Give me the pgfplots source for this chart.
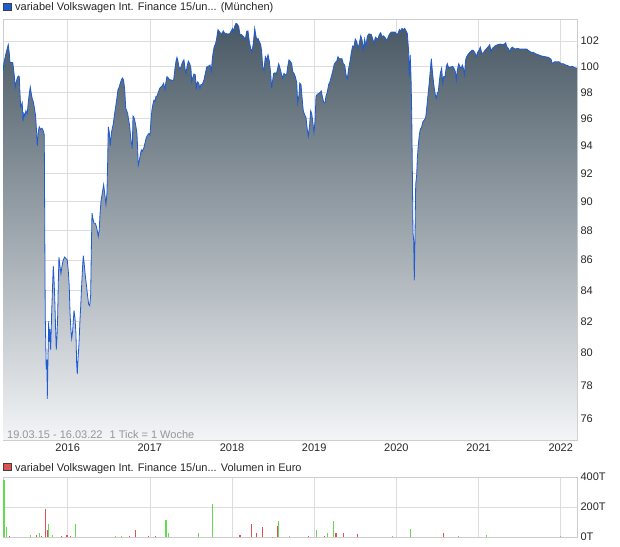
\documentclass[border=0pt]{standalone}
\usepackage{pgfplots}
\pgfplotsset{compat=1.18}
\usepackage{pgfplotstable}
\usepackage{fontspec}
\setmainfont{Liberation Sans}

\definecolor{gridgray}{RGB}{221,221,221}
\definecolor{framegray}{RGB}{205,205,205}
\definecolor{lineblue}{RGB}{30,90,210}
\definecolor{fillTop}{RGB}{72,88,100}
\definecolor{fillBot}{RGB}{243,245,247}
\definecolor{volgreen}{RGB}{100,218,80}
\definecolor{volred}{RGB}{222,82,82}
\definecolor{notegray}{RGB}{150,150,150}

% weekly closing prices (decimal year, price)
\pgfplotstableread{
t p
2015.213 99.6
2015.225 100.3
2015.249 101.0
2015.265 101.4
2015.277 101.7
2015.289 101.05
2015.298 100.3
2015.331 100.3
2015.338 99.97
2015.350 99.3
2015.362 98.4
2015.371 98.7
2015.387 99.1
2015.399 99.25
2015.411 99.2
2015.419 98.0
2015.428 96.9
2015.435 97.0
2015.447 97.2
2015.456 95.8
2015.468 96.4
2015.480 96.2
2015.492 96.6
2015.508 96.4
2015.520 97.2
2015.533 97.9
2015.545 98.4
2015.557 97.9
2015.569 97.5
2015.581 97.3
2015.593 96.9
2015.610 96.2
2015.623 94.9
2015.630 94.0
2015.642 95.0
2015.654 95.4
2015.671 95.2
2015.687 95.3
2015.703 95.1
2015.715 94.8
2015.720 89.4
2015.727 82.4
2015.739 79.0
2015.748 79.6
2015.752 77.2
2015.760 79.6
2015.769 82.0
2015.776 80.7
2015.785 81.5
2015.793 80.2
2015.805 82.5
2015.817 84.4
2015.825 85.6
2015.833 84.8
2015.842 83.6
2015.854 81.4
2015.861 80.2
2015.870 81.0
2015.878 82.3
2015.886 84.5
2015.894 86.2
2015.906 85.6
2015.918 85.1
2015.931 85.6
2015.946 86.0
2015.963 86.2
2015.979 86.1
2015.995 86.0
2016.007 85.3
2016.019 84.3
2016.028 82.6
2016.040 81.4
2016.049 80.9
2016.061 81.4
2016.077 82.7
2016.089 82.2
2016.101 81.2
2016.109 79.4
2016.117 78.7
2016.125 79.6
2016.137 80.5
2016.150 82.1
2016.158 82.9
2016.170 84.3
2016.182 85.6
2016.190 86.3
2016.202 85.7
2016.214 85.0
2016.231 84.2
2016.243 83.6
2016.255 83.1
2016.268 83.0
2016.280 83.7
2016.287 86.4
2016.296 89.2
2016.308 88.8
2016.320 88.5
2016.336 88.5
2016.348 88.3
2016.360 88.0
2016.372 87.6
2016.384 88.0
2016.393 89.1
2016.405 90.0
2016.421 90.6
2016.438 91.2
2016.454 90.4
2016.466 89.8
2016.478 90.6
2016.487 92.9
2016.494 95.4
2016.506 95.0
2016.518 94.0
2016.531 94.9
2016.543 95.3
2016.555 95.6
2016.567 96.2
2016.584 96.9
2016.600 97.6
2016.612 98.2
2016.628 98.4
2016.640 98.7
2016.657 99.0
2016.669 99.1
2016.681 98.9
2016.694 98.2
2016.706 96.8
2016.718 96.6
2016.730 96.4
2016.742 95.9
2016.754 95.5
2016.767 94.6
2016.779 94.1
2016.786 93.8
2016.795 96.2
2016.807 96.1
2016.819 95.8
2016.831 95.4
2016.843 94.9
2016.852 93.7
2016.859 92.6
2016.871 92.9
2016.883 93.3
2016.896 93.7
2016.908 93.6
2016.925 93.8
2016.941 94.2
2016.956 94.6
2016.974 94.8
2016.989 94.9
2017.002 94.8
2017.014 95.9
2017.026 96.7
2017.038 97.1
2017.050 97.4
2017.062 97.3
2017.075 97.7
2017.087 97.7
2017.103 98.0
2017.120 98.3
2017.135 98.4
2017.151 98.5
2017.168 98.7
2017.184 98.2
2017.196 98.8
2017.208 99.2
2017.224 99.1
2017.241 98.95
2017.257 98.95
2017.273 98.9
2017.290 98.95
2017.306 99.85
2017.318 100.4
2017.330 100.7
2017.342 100.4
2017.354 99.95
2017.367 99.8
2017.379 99.95
2017.391 100.2
2017.403 100.4
2017.415 100.5
2017.427 99.85
2017.440 99.45
2017.452 99.95
2017.468 100.4
2017.485 100.2
2017.500 99.85
2017.509 98.8
2017.521 99.1
2017.537 99.4
2017.553 99.35
2017.565 98.2
2017.577 98.8
2017.594 98.7
2017.610 98.3
2017.622 98.6
2017.638 98.6
2017.659 98.95
2017.675 99.45
2017.692 99.95
2017.711 100.0
2017.732 100.1
2017.748 99.6
2017.760 100.6
2017.772 101.15
2017.784 101.55
2017.801 101.8
2017.813 102.2
2017.829 102.9
2017.845 102.75
2017.862 102.6
2017.878 102.6
2017.894 102.8
2017.911 102.6
2017.926 102.6
2017.942 102.55
2017.959 102.55
2017.975 102.6
2017.991 102.8
2018.008 103.0
2018.020 102.75
2018.032 103.15
2018.048 103.4
2018.064 103.35
2018.081 103.15
2018.097 102.5
2018.113 102.5
2018.130 102.4
2018.145 102.3
2018.161 102.1
2018.178 102.75
2018.194 102.8
2018.210 101.95
2018.227 101.4
2018.243 101.15
2018.259 101.8
2018.276 103.0
2018.288 102.5
2018.300 102.1
2018.316 102.2
2018.332 101.95
2018.349 101.7
2018.361 101.15
2018.373 99.95
2018.389 99.7
2018.405 100.75
2018.422 100.5
2018.438 100.9
2018.454 100.4
2018.470 99.45
2018.483 98.3
2018.495 98.95
2018.507 99.45
2018.523 99.5
2018.539 99.4
2018.556 99.85
2018.568 100.2
2018.584 99.85
2018.599 99.45
2018.616 99.1
2018.632 99.45
2018.648 99.35
2018.665 99.35
2018.677 99.95
2018.693 100.5
2018.709 100.4
2018.726 100.2
2018.738 99.6
2018.754 99.45
2018.770 99.2
2018.787 98.75
2018.799 97.2
2018.815 97.8
2018.824 98.7
2018.839 98.6
2018.855 97.4
2018.867 96.6
2018.884 96.3
2018.900 96.1
2018.916 95.2
2018.928 94.7
2018.945 95.6
2018.957 96.6
2018.969 96.4
2018.982 95.8
2018.997 95.0
2019.010 95.8
2019.022 97.7
2019.038 97.85
2019.055 97.9
2019.070 97.98
2019.086 98.1
2019.098 97.7
2019.115 97.25
2019.131 97.2
2019.143 97.7
2019.159 98.0
2019.176 98.6
2019.192 98.8
2019.208 99.2
2019.225 99.6
2019.241 100.1
2019.257 100.3
2019.274 100.4
2019.289 100.75
2019.305 100.6
2019.322 100.6
2019.338 100.6
2019.354 100.2
2019.371 100.1
2019.387 99.35
2019.403 99.05
2019.420 99.85
2019.436 100.4
2019.451 101.05
2019.468 101.6
2019.484 101.55
2019.500 102.15
2019.517 101.95
2019.533 101.4
2019.549 101.8
2019.566 102.4
2019.582 102.1
2019.597 101.3
2019.614 102.15
2019.630 101.55
2019.646 102.35
2019.663 102.55
2019.679 102.55
2019.695 102.5
2019.712 102.15
2019.728 101.8
2019.744 102.3
2019.761 102.2
2019.776 102.15
2019.792 102.5
2019.809 102.65
2019.825 102.35
2019.841 102.4
2019.858 102.3
2019.874 102.15
2019.889 102.1
2019.906 102.4
2019.922 102.6
2019.938 102.7
2019.955 102.7
2019.971 102.7
2019.987 102.7
2020.004 102.5
2020.020 102.6
2020.036 102.9
2020.053 102.8
2020.068 103.0
2020.084 102.9
2020.101 103.0
2020.117 102.8
2020.133 102.6
2020.148 101.3
2020.157 99.2
2020.168 100.9
2020.178 99.2
2020.187 96.3
2020.194 92.3
2020.202 87.85
2020.211 87.3
2020.218 84.65
2020.227 87.85
2020.235 91.2
2020.247 91.9
2020.255 93.1
2020.267 94.05
2020.279 94.8
2020.291 95.2
2020.308 95.4
2020.324 95.8
2020.340 95.9
2020.357 96.1
2020.373 97.05
2020.388 98.0
2020.401 98.8
2020.413 99.7
2020.425 100.6
2020.437 99.7
2020.449 98.95
2020.461 98.3
2020.474 97.8
2020.486 97.55
2020.498 97.95
2020.510 98.05
2020.522 98.8
2020.534 99.45
2020.551 99.85
2020.564 98.7
2020.576 99.2
2020.592 99.2
2020.607 99.95
2020.620 100.2
2020.637 99.85
2020.653 99.95
2020.668 99.95
2020.685 100.0
2020.701 99.85
2020.717 99.6
2020.729 98.95
2020.741 99.7
2020.759 100.2
2020.774 99.95
2020.790 99.85
2020.802 100.1
2020.815 99.85
2020.827 99.35
2020.844 100.55
2020.859 100.8
2020.875 100.95
2020.896 101.1
2020.917 101.25
2020.936 101.25
2020.957 101.05
2020.973 100.75
2020.990 101.1
2021.005 101.25
2021.021 101.5
2021.038 101.05
2021.058 101.05
2021.078 101.25
2021.099 101.4
2021.119 101.55
2021.136 101.7
2021.152 101.15
2021.167 101.4
2021.184 101.5
2021.200 101.6
2021.233 101.7
2021.261 101.75
2021.289 101.7
2021.313 101.75
2021.330 101.85
2021.343 101.55
2021.362 101.4
2021.374 101.15
2021.395 101.4
2021.411 101.5
2021.431 101.4
2021.452 101.35
2021.472 101.4
2021.504 101.35
2021.545 101.35
2021.586 101.35
2021.605 101.25
2021.638 101.1
2021.666 101.1
2021.687 101.0
2021.727 100.9
2021.769 100.8
2021.809 100.75
2021.849 100.7
2021.882 100.55
2021.898 100.2
2021.922 100.35
2021.951 100.35
2021.979 100.35
2022.004 100.2
2022.031 100.2
2022.061 100.1
2022.085 100.05
2022.113 99.95
2022.141 100.0
2022.165 99.9
2022.198 99.85
}\pricedata

\pgfplotsset{
  panel/.style={
    scale only axis, anchor=south west, width=574pt,
    xmin=2015.213, xmax=2022.198,
    xtick={2016,2017,2018,2019,2020,2021,2022},
    grid=major, grid style={gridgray, line width=0.7pt},
    axis line style={framegray, line width=0.7pt},
    major tick length=0pt, minor tick num=0,
    yticklabel pos=right,
    tick label style={font=\fontsize{11}{13}\selectfont, text=black!85},
  }
}

\begin{document}
\begin{tikzpicture}[font=\fontsize{11}{13}\selectfont]
\useasboundingbox (0,0) rectangle (620pt,546pt);

% price panel, log scale
\begin{axis}[panel, at={(3pt,106pt)}, height=421pt,
  ymode=log, ymin=74.77, ymax=103.76,
  ytick={76,78,80,82,84,86,88,90,92,94,96,98,100,102},
  yticklabels={76,78,80,82,84,86,88,90,92,94,96,98,100,102},
  xticklabels={2016,2017,2018,2019,2020,2021,2022},
]
% shaded area, closed along the lower edge of the panel
\addplot[draw=none, top color=fillTop, bottom color=fillBot] table[x=t, y=p] {\pricedata}
  -- (axis cs:2022.198,74.77) -- (axis cs:2015.213,74.77) -- cycle;
\addplot[draw=lineblue, line width=0.8pt, mark=none] table[x=t, y=p] {\pricedata};
\end{axis}

% volume panel
\begin{axis}[panel, at={(3pt,9pt)}, height=60pt,
  ymin=0, ymax=400, ytick={0,200,400}, yticklabels={0T,200T,400T},
  xticklabels={},
]
\addplot[ycomb, volgreen, line width=1.1pt, mark=none] coordinates {
(2015.215,210)(2015.225,380)(2015.253,68)(2015.546,12)(2015.657,27)(2015.763,87)(2015.811,12)
(2016.090,87)(2016.580,7)(2016.652,7)(2017.196,116)(2017.230,24)(2017.590,29)(2017.763,218)
(2018.495,2)(2018.568,109)(2018.697,7)(2019.024,44)(2019.159,29)(2019.231,109)(2019.948,7)
(2020.169,51)(2020.756,7)(2021.093,15)
};
\addplot[ycomb, volred, line width=1.1pt, mark=none] coordinates {
(2015.292,7)(2015.619,15)(2015.681,7)(2015.730,189)(2015.753,44)(2015.922,7)(2015.984,12)
(2015.994,15)(2016.033,7)(2016.748,5)(2016.826,44)(2016.989,7)(2017.066,7)(2018.097,15)
(2018.236,87)(2018.293,29)(2018.371,68)(2018.553,75)(2018.928,7)(2019.120,7)(2019.265,29)
(2019.352,24)(2019.524,22)(2020.573,29)
};
\addplot[ycomb, black!35, line width=1.1pt, mark=none] coordinates {(2021.997,5)};
\end{axis}

% legends and note
\draw[fill=lineblue, draw=black!75, line width=0.5pt] (3.5pt,535.5pt) rectangle (11pt,543pt);
\node[anchor=base west, inner sep=0pt, text=black!85] at (15pt,535pt)
  {variabel Volkswagen Int. Finance 15/un... (München)};
\draw[fill=volred, draw=black!75, line width=0.5pt] (3.5pt,75.5pt) rectangle (11pt,83pt);
\node[anchor=base west, inner sep=0pt, text=black!85] at (15pt,75pt)
  {variabel Volkswagen Int. Finance 15/un... Volumen in Euro};
\node[anchor=base west, inner sep=0pt, text=notegray] at (7pt,108pt)
  {19.03.15 - 16.03.22\hspace{7pt}1 Tick = 1 Woche};
\end{tikzpicture}
\end{document}
